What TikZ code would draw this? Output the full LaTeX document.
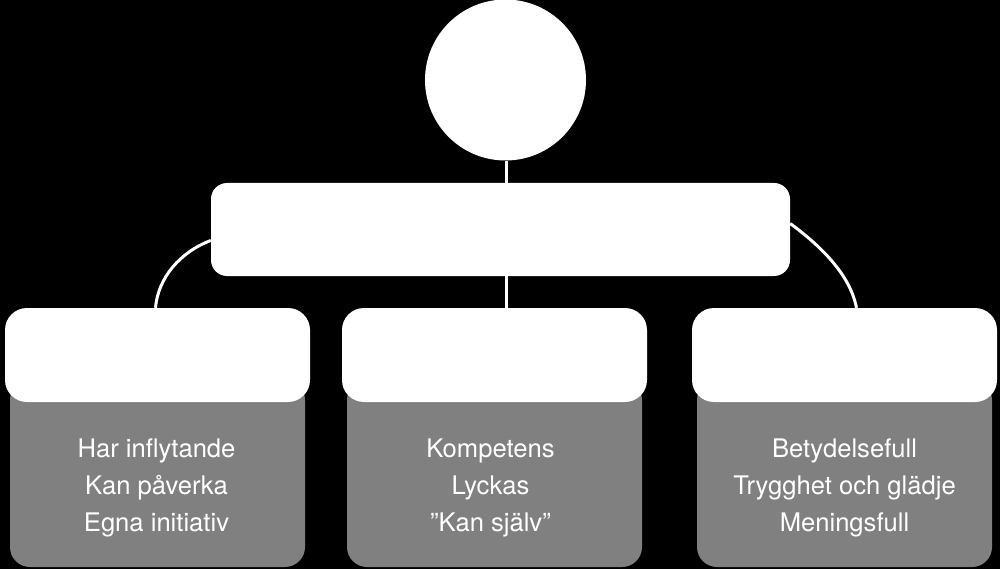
\documentclass[tikz,border=0pt]{standalone}
\usepackage{fontspec}
\setmainfont{TeX Gyre Heros}
\usepackage{xcolor}
\definecolor{bodygray}{RGB}{128,128,128}
\usetikzlibrary{positioning, calc}

\tikzset{
  headbox/.style={draw=none, fill=white, rounded corners=22pt, minimum width=305pt, minimum height=94pt},
  bodybox/.style={draw=none, fill=bodygray, rounded corners=20pt, minimum width=295pt, minimum height=187pt},
  bodytext/.style={text=white, align=center, font=\fontsize{25.6}{37}\selectfont},
  link/.style={white, line width=3pt}
}

\begin{document}
\begin{tikzpicture}[x=1pt, y=-1pt]

% --- background and frame ---
\fill[black] (0,0) rectangle (1000,569);
\useasboundingbox (0,0) rectangle (1000,569);

% --- top: circle and hub ---
\node[circle, fill=white, minimum size=161pt, inner sep=0pt] (top) at (505.5,80) {};
\node[fill=white, rounded corners=16pt, minimum width=579pt, minimum height=93pt] (hub) at (500.5,229.5) {};

% --- gray bodies (behind the heads) ---
\node[bodybox] (leftbody) at (157.5,473.5) {};
\node[bodybox] (midbody) at (494.5,473.5) {};
\node[bodybox] (rightbody) at (844.5,473.5) {};

% --- white heads ---
\node[headbox] (lefthead) at (157.5,355) {};
\node[headbox] (midhead) at (494.5,355) {};
\node[headbox] (righthead) at (844.5,355) {};

% --- texts ---
\node[bodytext] (lefttext) at (156.5,488) {Har inflytande\\Kan påverka\\Egna initiativ};
\node[bodytext] (midtext) at (490.5,488) {Kompetens\\Lyckas\\”Kan själv”};
\node[bodytext] (righttext) at (844.5,488) {Betydelsefull\\Trygghet och glädje\\Meningsfull};

% --- connectors ---
\draw[link] (top.south -| 506,0) -- (hub.north -| 506,0);
\draw[link] (hub.south -| 506,0) -- (midhead.north -| 506,0);
\draw[link] ([yshift=-11pt]hub.west) .. controls (180,252) and (158,278) .. ([xshift=-2pt]lefthead.north);
\draw[link] ([yshift=6pt]hub.east) .. controls (822,247) and (850,275) .. ([xshift=12pt]righthead.north);

\end{tikzpicture}
\end{document}
